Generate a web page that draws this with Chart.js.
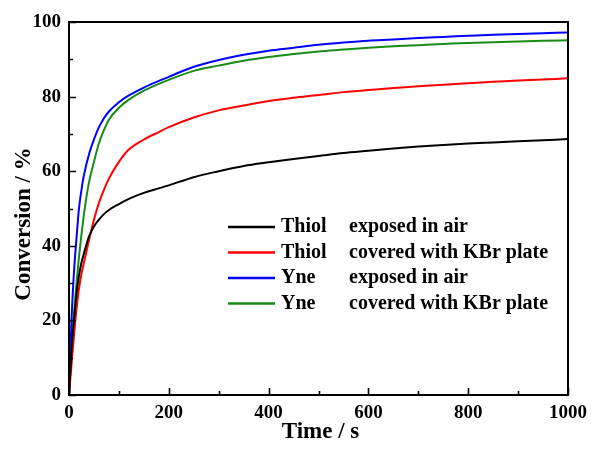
<!DOCTYPE html>
<html>
<head>
<meta charset="utf-8">
<script src="https://cdn.jsdelivr.net/npm/chart.js@4.4.1/dist/chart.umd.min.js"></script>
<style>
  html, body { margin: 0; padding: 0; background: #fff; }
  #wrap { width: 594px; height: 450px; position: relative; }
</style>
</head>
<body>
<div id="wrap"><canvas id="myChart" width="594" height="450"></canvas></div>
<script>
// sampling times (s)
var times = [0, 5, 10, 15, 20, 25, 30, 40, 50, 60, 70, 80, 100, 120, 150, 180, 200,
  250, 300, 350, 400, 450, 500, 550, 600, 650, 700, 750, 800, 850, 900, 950, 1000];

// conversion (%) for each run
var thiolAir = [0, 12, 20, 27, 32, 35.5, 38, 42.5, 45.2, 47, 48.5, 49.6, 51.2, 52.6, 54.2, 55.4, 56.2,
  58.4, 60, 61.4, 62.4, 63.3, 64.1, 64.9, 65.5, 66.1, 66.6, 67, 67.4, 67.7, 68, 68.3, 68.6];
var thiolKBr = [0, 8, 16, 23, 28.5, 32.5, 35.5, 41.5, 47, 51.5, 55, 58, 62.5, 65.8, 68.5, 70.5, 71.8,
  74.4, 76.3, 77.6, 78.8, 79.7, 80.4, 81.2, 81.8, 82.3, 82.8, 83.2, 83.6, 84, 84.3, 84.6, 84.9];
var yneAir = [0, 20, 33, 42, 50, 55, 59, 64.5, 68.5, 71.8, 74.2, 76, 78.5, 80.3, 82.4, 84.2, 85.3,
  88, 89.8, 91.2, 92.3, 93.1, 93.9, 94.5, 95, 95.3, 95.7, 96, 96.3, 96.6, 96.8, 97, 97.2];
var yneKBr = [0, 13, 22, 30, 37, 43, 48.5, 57, 62.5, 67.5, 71, 73.8, 77, 79.2, 81.6, 83.4, 84.5,
  86.9, 88.3, 89.6, 90.6, 91.4, 92.1, 92.6, 93.1, 93.5, 93.8, 94.1, 94.4, 94.6, 94.8, 95, 95.1];

var monomers = ['Thiol', 'Thiol', 'Yne', 'Yne'];
var conditions = ['exposed in air', 'covered with KBr plate', 'exposed in air', 'covered with KBr plate'];
var colors = ['#000000', '#ff0000', '#0000ff', '#168c16'];
var series = [thiolAir, thiolKBr, yneAir, yneKBr];

var xTitle = 'Time / s';
var yTitle = 'Conversion / %';
var serif = '"Liberation Serif", "Times New Roman", serif';

function points(vals) {
  var out = [];
  for (var i = 0; i < times.length; i++) out.push({ x: times[i], y: vals[i] });
  return out;
}

var datasets = [];
for (var i = 0; i < series.length; i++) {
  datasets.push({
    label: monomers[i] + ' ' + conditions[i],
    data: points(series[i]),
    borderColor: colors[i],
    borderWidth: 2,
    pointRadius: 0,
    cubicInterpolationMode: 'monotone',
    fill: false
  });
}

// frame, inward ticks, axis titles and the legend box
var framePlugin = {
  id: 'frame',
  afterDraw: function(chart) {
    var ctx = chart.ctx;
    var a = chart.chartArea;
    var xs = chart.scales.x, ys = chart.scales.y;
    ctx.save();
    ctx.strokeStyle = '#000';
    ctx.lineWidth = 2;
    ctx.strokeRect(a.left, a.top, a.right - a.left, a.bottom - a.top);

    ctx.lineWidth = 1.6;
    ctx.beginPath();
    for (var t = xs.min; t <= xs.max; t += 100) {
      var px = Math.round(xs.getPixelForValue(t)) + 0.5;
      var len = (t % 200 === 0) ? 7 : 4;
      ctx.moveTo(px, a.bottom);
      ctx.lineTo(px, a.bottom - len);
    }
    for (var v = ys.min; v <= ys.max; v += 10) {
      var py = Math.round(ys.getPixelForValue(v)) + 0.5;
      var len2 = (v % 20 === 0) ? 7 : 4;
      ctx.moveTo(a.left, py);
      ctx.lineTo(a.left + len2, py);
    }
    ctx.stroke();

    ctx.fillStyle = '#000';
    ctx.font = 'bold 23px ' + serif;
    ctx.textAlign = 'center';
    ctx.textBaseline = 'alphabetic';
    ctx.fillText(xTitle, (a.left + a.right) / 2 + 2, 438);
    ctx.save();
    ctx.translate(30, 224);
    ctx.rotate(-Math.PI / 2);
    ctx.fillText(yTitle, 0, 0);
    ctx.restore();

    // legend
    ctx.font = 'bold 20px ' + serif;
    ctx.textAlign = 'left';
    ctx.textBaseline = 'middle';
    for (var k = 0; k < datasets.length; k++) {
      var ly = 227 + k * 25.5;
      ctx.strokeStyle = datasets[k].borderColor;
      ctx.lineWidth = 2.5;
      ctx.beginPath();
      ctx.moveTo(228, ly);
      ctx.lineTo(275, ly);
      ctx.stroke();
      ctx.fillText(monomers[k], 281, ly);
      ctx.fillText(conditions[k], 349, ly);
    }
    ctx.restore();
  }
};

var tickFont = { family: serif, size: 19, weight: 'bold' };

new Chart(document.getElementById('myChart'), {
  type: 'line',
  data: { datasets: datasets },
  options: {
    responsive: false,
    animation: false,
    layout: { padding: { top: 22, right: 25, left: 0, bottom: 0 } },
    plugins: {
      legend: { display: false },
      tooltip: { enabled: false }
    },
    scales: {
      x: {
        type: 'linear',
        min: 0,
        max: 1000,
        grid: { display: false, drawTicks: false },
        border: { display: false },
        ticks: {
          stepSize: 200, color: '#000', font: tickFont, padding: 7, maxRotation: 0,
          callback: function(val) { return String(val); }
        },
        afterFit: function(scale) { scale.height = 55; }
      },
      y: {
        min: 0,
        max: 100,
        grid: { display: false, drawTicks: false },
        border: { display: false },
        ticks: { stepSize: 20, color: '#000', font: tickFont, padding: 8 },
        afterFit: function(scale) { scale.width = 69; }
      }
    }
  },
  plugins: [framePlugin]
});
</script>
</body>
</html>
